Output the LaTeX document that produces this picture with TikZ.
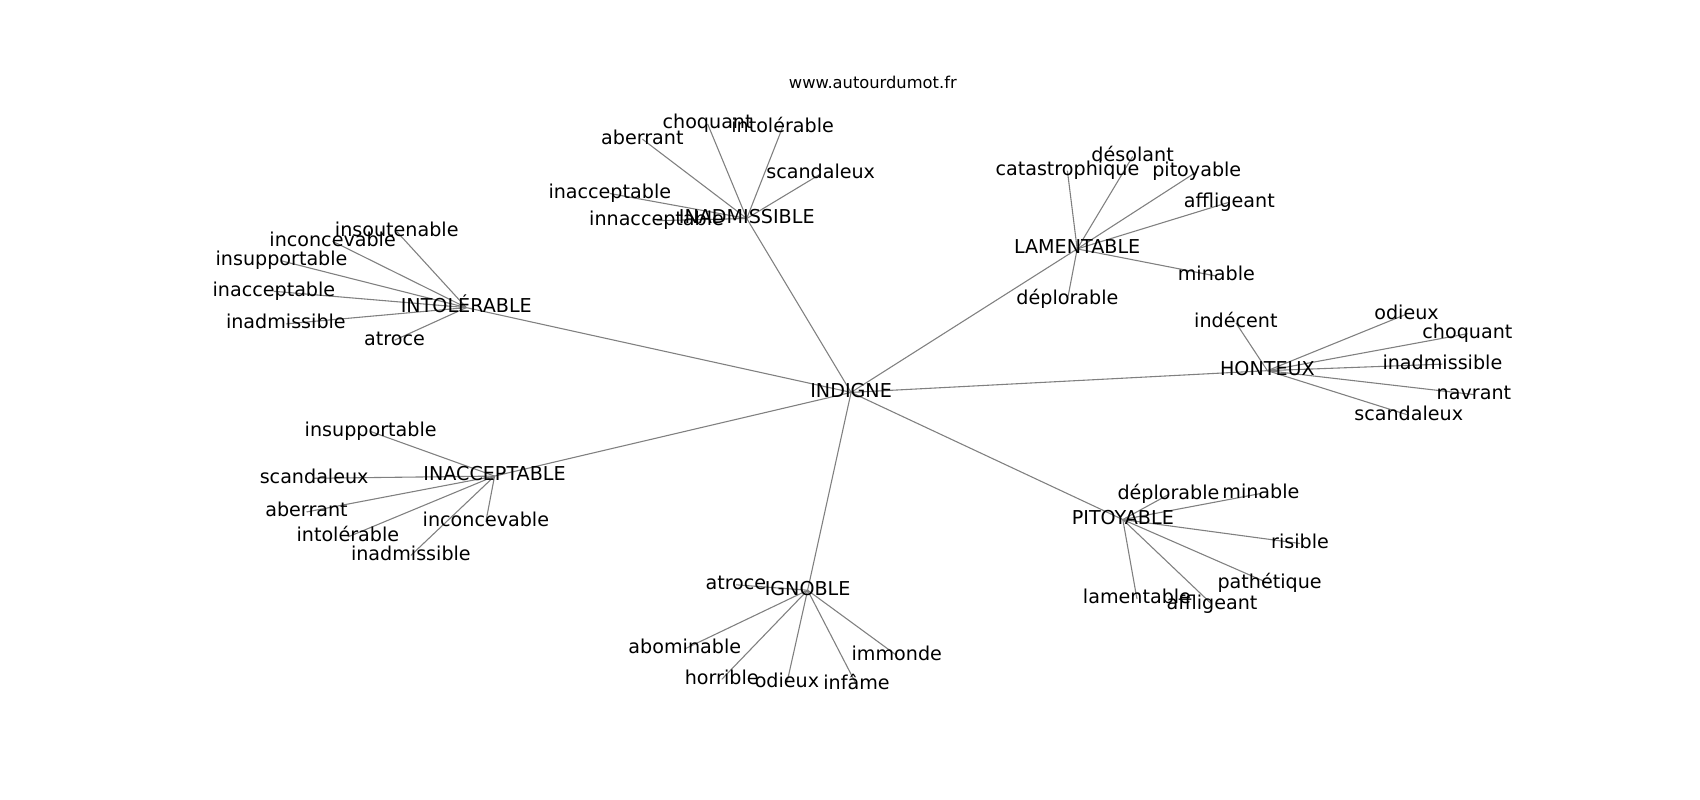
\documentclass[tikz,border=0pt]{standalone}
\usepackage{fontspec}
\setmainfont{DejaVu Sans}
\usetikzlibrary{backgrounds}
\begin{document}
\begin{tikzpicture}[x=1pt,y=-1pt,
  lbl/.style={inner sep=0pt, font=\fontsize{17.6}{20}\selectfont, text height=13pt, text depth=4pt},
  ttl/.style={inner sep=0pt, font=\fontsize{15}{18}\selectfont},
  edge/.style={draw=gray, line width=1pt}]
\useasboundingbox (0,0) rectangle (1564,736);
\node[ttl] (url) at (803,76) {www.autourdumot.fr};
% hubs
\node[lbl] (hub) at (783,361) {INDIGNE};
\node[lbl] (adm) at (687,201) {INADMISSIBLE};
\node[lbl] (intol) at (429,283) {INTOLÉRABLE};
\node[lbl] (lam) at (991,229) {LAMENTABLE};
\node[lbl] (hon) at (1166,341) {HONTEUX};
\node[lbl] (inacc) at (455,438) {INACCEPTABLE};
\node[lbl] (pit) at (1033,478) {PITOYABLE};
\node[lbl] (ign) at (743,543) {IGNOBLE};
% INADMISSIBLE leaves
\node[lbl] (a1) at (591,128) {aberrant};
\node[lbl] (a2) at (651,114) {choquant};
\node[lbl] (a3) at (720,117) {intolérable};
\node[lbl] (a4) at (755,160) {scandaleux};
\node[lbl] (a5) at (561,178) {inacceptable};
\node[lbl] (a6) at (604,203) {innacceptable};
% INTOLERABLE leaves
\node[lbl] (b1) at (365,213) {insoutenable};
\node[lbl] (b2) at (306,222) {inconcevable};
\node[lbl] (b3) at (259,240) {insupportable};
\node[lbl] (b4) at (252,268) {inacceptable};
\node[lbl] (b5) at (263,298) {inadmissible};
\node[lbl] (b6) at (363,313) {atroce};
% LAMENTABLE leaves
\node[lbl] (c1) at (982,157) {catastrophique};
\node[lbl] (c2) at (1042,144) {désolant};
\node[lbl] (c3) at (1101,158) {pitoyable};
\node[lbl] (c4) at (1131,186) {affligeant};
\node[lbl] (c5) at (1119,254) {minable};
\node[lbl] (c6) at (982,276) {déplorable};
% HONTEUX leaves
\node[lbl] (d1) at (1137,297) {indécent};
\node[lbl] (d2) at (1294,289) {odieux};
\node[lbl] (d3) at (1350,307) {choquant};
\node[lbl] (d4) at (1327,335) {inadmissible};
\node[lbl] (d5) at (1356,363) {navrant};
\node[lbl] (d6) at (1296,382) {scandaleux};
% INACCEPTABLE leaves
\node[lbl] (e1) at (341,397) {insupportable};
\node[lbl] (e2) at (289,440) {scandaleux};
\node[lbl] (e3) at (282,471) {aberrant};
\node[lbl] (e4) at (320,494) {intolérable};
\node[lbl] (e5) at (378,511) {inadmissible};
\node[lbl] (e6) at (447,480) {inconcevable};
% PITOYABLE leaves
\node[lbl] (f1) at (1075,455) {déplorable};
\node[lbl] (f2) at (1160,454) {minable};
\node[lbl] (f3) at (1196,500) {risible};
\node[lbl] (f4) at (1168,537) {pathétique};
\node[lbl] (f5) at (1046,551) {lamentable};
\node[lbl] (f6) at (1115,556) {affligeant};
% IGNOBLE leaves
\node[lbl] (g1) at (677,538) {atroce};
\node[lbl] (g2) at (630,597) {abominable};
\node[lbl] (g3) at (664,625) {horrible};
\node[lbl] (g4) at (724,628) {odieux};
\node[lbl] (g5) at (788,630) {infâme};
\node[lbl] (g6) at (825,603) {immonde};
\begin{scope}[on background layer]
\foreach \h in {adm,intol,lam,hon,inacc,pit,ign}
  \draw[edge] (hub.center) -- (\h.center);
\foreach \l in {a1,a2,a3,a4,a5,a6}
  \draw[edge] (adm.center) -- (\l.center);
\foreach \l in {b1,b2,b3,b4,b5,b6}
  \draw[edge] (intol.center) -- (\l.center);
\foreach \l in {c1,c2,c3,c4,c5,c6}
  \draw[edge] (lam.center) -- (\l.center);
\foreach \l in {d1,d2,d3,d4,d5,d6}
  \draw[edge] (hon.center) -- (\l.center);
\foreach \l in {e1,e2,e3,e4,e5,e6}
  \draw[edge] (inacc.center) -- (\l.center);
\foreach \l in {f1,f2,f3,f4,f5,f6}
  \draw[edge] (pit.center) -- (\l.center);
\foreach \l in {g1,g2,g3,g4,g5,g6}
  \draw[edge] (ign.center) -- (\l.center);
\end{scope}
\end{tikzpicture}
\end{document}
